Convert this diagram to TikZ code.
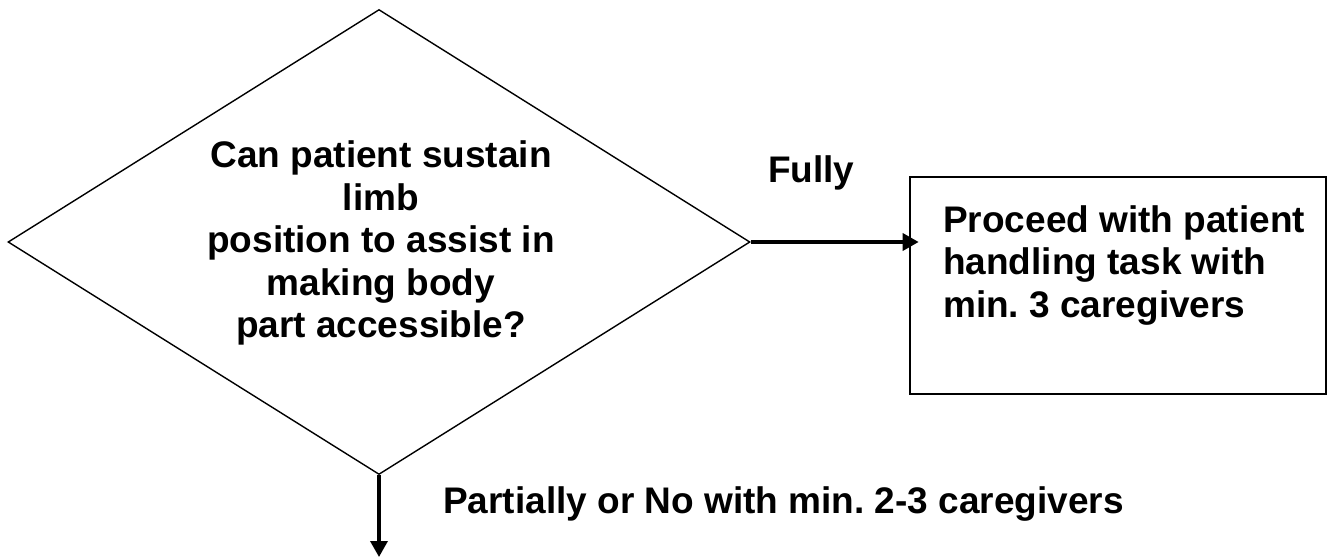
\documentclass[tikz,border=0pt]{standalone}
\usepackage{fontspec}
\setmainfont{Liberation Sans}
\usetikzlibrary{shapes.geometric,arrows.meta}
\frenchspacing
\begin{document}
\begin{tikzpicture}[x=1pt,y=-1pt,
  txt/.style={font=\bfseries\fontsize{37}{42.5}\selectfont,inner sep=0pt},
  flow/.style={line width=3.5pt,-{Triangle[length=16pt,width=17pt]}}]
  \useasboundingbox (0,0) rectangle (1330,557);
  % decision
  \node[draw,diamond,line width=1.4pt,minimum width=742pt,minimum height=465pt,inner sep=0pt] (ask) at (379,242) {};
  \node[txt,align=center] (asktext) at (381,243) {Can patient sustain\\limb\\position to assist in\\making body\\part accessible?};
  % task box
  \node[draw,line width=2.7pt,minimum width=416pt,minimum height=217pt,inner sep=0pt] (task) at (1118,285.5) {};
  \node[txt,align=left,anchor=north west] (tasktext) at (943,205) {Proceed with patient\\handling task with\\min. 3 caregivers};
  % answers
  \node[txt,anchor=base west] (fully) at (768,182) {Fully};
  \node[txt,anchor=base west] (partial) at (443,513) {Partially or No with min. 2-3 caregivers};
  \coordinate (down) at (379,557);
  \draw[flow,shorten >=-10pt] (ask.east) -- (ask.east -| task.west);
  \draw[flow] (ask.south) -- (down);
\end{tikzpicture}
\end{document}
